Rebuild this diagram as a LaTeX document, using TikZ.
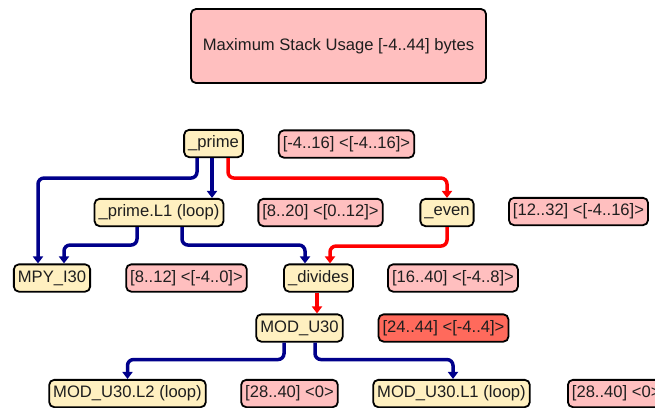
\documentclass[tikz,border=0pt]{standalone}
\usepackage{fontspec}
\setmainfont{Liberation Sans}
\usetikzlibrary{arrows.meta}
\definecolor{fnfill}{HTML}{FFF0C0}
\definecolor{stkfill}{HTML}{FFBFBF}
\definecolor{maxfill}{HTML}{FF6A5C}
\definecolor{txtcol}{HTML}{1E1E1E}
\definecolor{callblue}{HTML}{00008B}
\definecolor{callred}{HTML}{FF0000}
\tikzset{
  box/.style={draw=black, line width=1.8pt, rounded corners=5pt,
    inner xsep=4pt, inner ysep=0pt, minimum height=27.3pt,
    font=\fontsize{16.6}{18}\selectfont, text=txtcol},
  fn/.style={box, fill=fnfill},
  stk/.style={box, fill=stkfill},
  stkmax/.style={box, fill=maxfill},
  edge/.style={line width=3.5pt, rounded corners=6pt,
    -{Triangle[length=7pt,width=10pt]}},
  blueedge/.style={edge, draw=callblue},
  rededge/.style={edge, draw=callred}
}
\begin{document}
\begin{tikzpicture}[x=1pt, y=-1pt]
\useasboundingbox (0,0) rectangle (655,407);
\clip (0,0) rectangle (655,407);

% summary box
\node[stk, minimum width=295pt, minimum height=74pt] (title) at (338.5,46)
  {Maximum Stack Usage [-4..44] bytes};

% call graph nodes and their stack ranges
\node[fn]  (prime)   at (213.5,143.5) {\_prime};
\node[stk] (sprime)  at (346.5,144)   {[-4..16] <[-4..16]>};

\node[fn]  (primel1) at (159,212.5)   {\_prime.L1 (loop)};
\node[stk] (sprimel1) at (320.5,212.5) {[8..20] <[0..12]>};
\node[fn]  (even)    at (447,212.5)   {\_even};
\node[stk] (seven)   at (578.5,211.5) {[12..32] <[-4..16]>};

\node[fn]  (mpy)     at (52,278)      {MPY\_I30};
\node[stk] (smpy)    at (186.5,278)   {[8..12] <[-4..0]>};
\node[fn]  (divides) at (318.5,278)   {\_divides};
\node[stk] (sdivides) at (453,278)    {[16..40] <[-4..8]>};

\node[fn]     (modu)  at (299.5,328)  {MOD\_U30};
\node[stkmax] (smodu) at (443.5,328)  {[24..44] <[-4..4]>};

\node[fn]  (modl2)   at (127.5,393.5) {MOD\_U30.L2 (loop)};
\node[stk] (smodl2)  at (289.5,393.5) {[28..40] <0>};
\node[fn]  (modl1)   at (451.5,393.5) {MOD\_U30.L1 (loop)};
\node[stk, anchor=west] (smodl1) at (567,393.5) {[28..40] <0>};

% calls
\draw[blueedge] ([xshift=-16.5pt]prime.south) -- ++(0,20) -| ([xshift=-14pt]mpy.north);
\draw[blueedge] ([xshift=-1.5pt]prime.south) -- ([xshift=53pt]primel1.north);
\draw[rededge]  ([xshift=14.5pt]prime.south) -- ++(0,20) -| (even.north);

\draw[blueedge] ([xshift=-22pt]primel1.south) -- ++(0,18) -| ([xshift=12pt]mpy.north);
\draw[blueedge] ([xshift=23pt]primel1.south) -- ++(0,18) -| ([xshift=-13.5pt]divides.north);
\draw[rededge]  (even.south) -- ++(0,19) -| ([xshift=11.5pt]divides.north);

\draw[rededge]  ([xshift=-1.5pt]divides.south) -- ([xshift=17.5pt]modu.north);

\draw[blueedge] ([xshift=-15.5pt]modu.south) -- ++(0,17) -| (modl2.north);
\draw[blueedge] ([xshift=15.5pt]modu.south) -- ++(0,17) -| ([xshift=1.5pt]modl1.north);
\end{tikzpicture}
\end{document}
